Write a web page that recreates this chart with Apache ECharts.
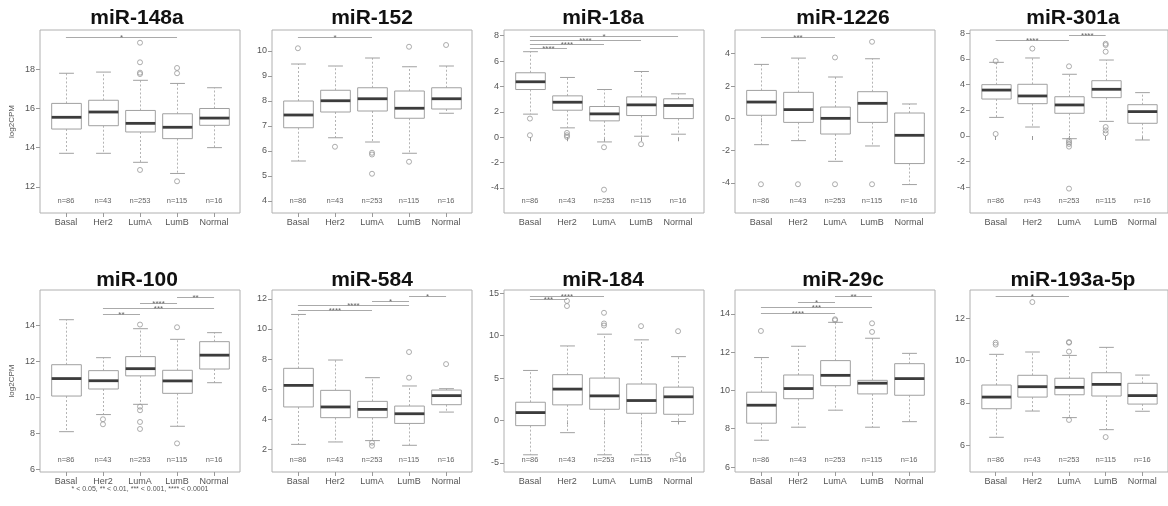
<!DOCTYPE html>
<html>
<head>
<meta charset="utf-8">
<script src="https://cdn.jsdelivr.net/npm/echarts@6/dist/echarts.min.js"></script>
<style>
  html, body { margin: 0; background: #fff; }
  #chart { width: 1168px; height: 506px; }
</style>
</head>
<body>
<div id="chart"></div>
<script>
  const subtypes = ['Basal', 'Her2', 'LumA', 'LumB', 'Normal'];
  const sampleCounts = [86, 43, 253, 115, 16];
  const mirNames = ['miR-148a', 'miR-152', 'miR-18a', 'miR-1226', 'miR-301a',
                    'miR-100', 'miR-584', 'miR-184', 'miR-29c', 'miR-193a-5p'];

  // box stats per subtype: [lower whisker, Q1, median, Q3, upper whisker]
  // outliers per subtype, significance bars: [from, to, y, stars]
  const box148a = [[13.71, 14.95, 15.55, 16.26, 17.8], [13.71, 15.12, 15.82, 16.42, 17.86], [13.25, 14.8, 15.24, 15.9, 17.44], [12.68, 14.46, 15.04, 15.73, 17.28], [14.0, 15.14, 15.51, 16.0, 17.06]];
  const out148a = [[], [], [19.36, 18.36, 17.83, 17.76, 12.86], [18.07, 17.8, 12.28], []];
  const sig148a = [[1, 4, 19.64, '*']];
  const ticks148a = [12, 14, 16, 18];

  const box152 = [[5.6, 6.93, 7.44, 8.0, 9.48], [6.53, 7.56, 8.01, 8.43, 9.4], [6.36, 7.6, 8.09, 8.53, 9.72], [5.91, 7.31, 7.71, 8.4, 9.37], [7.51, 7.68, 8.09, 8.53, 9.4]];
  const out152 = [[10.11], [6.17], [5.93, 5.86, 5.09], [10.17, 5.57], [10.24]];
  const sig152 = [[1, 3, 10.57, '*']];
  const ticks152 = [4, 5, 6, 7, 8, 9, 10];

  const box18a = [[1.82, 3.76, 4.37, 5.08, 6.74], [0.74, 2.13, 2.76, 3.26, 4.71], [-0.37, 1.29, 1.84, 2.42, 3.76], [0.08, 1.71, 2.55, 3.18, 5.18], [0.24, 1.47, 2.5, 3.03, 3.42]];
  const out18a = [[1.47, 0.16], [0.34, 0.16, 0.03], [-0.79, -4.13], [-0.55], []];
  const sig18a = [[1, 5, 8.0, '*'], [1, 4, 7.66, '****'], [1, 3, 7.34, '****'], [1, 2, 7.05, '****']];
  const ticks18a = [-4, -2, 0, 2, 4, 6, 8];

  const box1226 = [[-1.63, 0.19, 1.01, 1.73, 3.34], [-1.38, -0.25, 0.54, 1.61, 3.73], [-2.66, -0.97, 0.0, 0.7, 2.56], [-1.71, -0.25, 0.93, 1.65, 3.69], [-4.1, -2.8, -1.05, 0.33, 0.89]];
  const out1226 = [[-4.08], [-4.08], [3.77, -4.08], [4.74, -4.08], []];
  const sig1226 = [[1, 3, 5.05, '***']];
  const ticks1226 = [-4, -2, 0, 2, 4];

  const box301a = [[1.45, 2.88, 3.58, 4.0, 5.74], [0.7, 2.52, 3.12, 4.03, 6.08], [-0.21, 1.77, 2.42, 3.06, 4.81], [1.14, 2.99, 3.64, 4.31, 5.92], [-0.31, 0.99, 1.9, 2.44, 3.38]];
  const out301a = [[5.84, 0.16], [6.81], [5.43, -0.36, -0.49, -0.62, -0.83, -4.1], [7.19, 7.09, 6.57, 0.7, 0.44, 0.21], []];
  const sig301a = [[1, 3, 7.51, '****'], [3, 4, 7.87, '****']];
  const ticks301a = [-4, -2, 0, 2, 4, 6, 8];

  const box100 = [[8.11, 10.09, 11.06, 11.83, 14.33], [9.06, 10.48, 10.94, 11.5, 12.22], [9.63, 11.21, 11.61, 12.28, 13.83], [8.41, 10.24, 10.93, 11.52, 13.24], [10.83, 11.59, 12.36, 13.11, 13.61]];
  const out100 = [[], [8.8, 8.52], [14.06, 9.5, 9.3, 8.65, 8.26], [13.91, 7.46], []];
  const sig100 = [[4, 5, 15.58, '**'], [3, 4, 15.24, '****'], [2, 5, 14.97, '***'], [2, 3, 14.65, '**']];
  const ticks100 = [6, 8, 10, 12, 14];

  const box584 = [[2.35, 4.83, 6.26, 7.39, 10.96], [2.51, 4.12, 4.83, 5.93, 7.94], [2.6, 4.12, 4.67, 5.2, 6.77], [2.29, 3.74, 4.38, 4.89, 6.22], [4.49, 4.98, 5.58, 5.95, 6.04]];
  const out584 = [[], [], [2.46, 2.26], [8.47, 6.77], [7.67]];
  const sig584 = [[4, 5, 12.18, '*'], [3, 4, 11.87, '*'], [1, 4, 11.58, '****'], [1, 3, 11.25, '****']];
  const ticks584 = [2, 4, 6, 8, 10, 12];

  const box184 = [[-4.05, -0.61, 0.93, 2.15, 5.9], [-1.44, 1.84, 3.7, 5.4, 8.79], [-4.05, 1.32, 2.9, 5.0, 10.18], [-4.05, 0.85, 2.35, 4.3, 9.51], [-0.12, 0.73, 2.79, 3.93, 7.53]];
  const out184 = [[], [14.1, 13.5], [12.7, 11.44, 11.2], [11.13], [10.53, -4.05]];
  const sig184 = [[1, 3, 14.68, '****'], [1, 2, 14.33, '***']];
  const ticks184 = [-5, 0, 5, 10, 15];

  const box29c = [[7.4, 8.29, 9.23, 9.91, 11.72], [8.08, 9.57, 10.1, 10.81, 12.31], [8.97, 10.25, 10.79, 11.56, 13.56], [8.08, 9.82, 10.38, 10.53, 12.73], [8.37, 9.75, 10.62, 11.4, 11.94]];
  const out29c = [[13.11], [], [13.72, 13.67], [13.51, 13.06], []];
  const sig29c = [[3, 4, 14.94, '**'], [2, 3, 14.64, '*'], [1, 4, 14.35, '***'], [1, 3, 14.05, '****']];
  const ticks29c = [6, 8, 10, 12, 14];

  const box193a = [[6.38, 7.73, 8.28, 8.85, 10.3], [7.62, 8.28, 8.77, 9.31, 10.41], [7.31, 8.39, 8.74, 9.17, 10.25], [6.74, 8.33, 8.88, 9.43, 10.63], [7.61, 7.95, 8.35, 8.93, 9.32]];
  const out193a = [[10.85, 10.76], [12.77], [10.88, 10.85, 10.43, 7.2], [6.39], []];
  const sig193a = [[1, 3, 13.04, '*']];
  const ticks193a = [6, 8, 10, 12];

  const panelBoxes = [box148a, box152, box18a, box1226, box301a, box100, box584, box184, box29c, box193a];
  const panelOut = [out148a, out152, out18a, out1226, out301a, out100, out584, out184, out29c, out193a];
  const panelSig = [sig148a, sig152, sig18a, sig1226, sig301a, sig100, sig584, sig184, sig29c, sig193a];
  const panelTicks = [ticks148a, ticks152, ticks18a, ticks1226, ticks301a, ticks100, ticks584, ticks184, ticks29c, ticks193a];

  // layout
  const colX = [40, 272, 504, 735, 970];
  const rowY = [30, 290];
  const plotH = [183, 182];
  const titleX = [137, 372, 603, 843, 1073];
  const titleY = [18, 280];
  const yRange = [[10.66, 20.01], [3.52, 10.84], [-5.97, 8.45], [-5.86, 5.47], [-6.0, 8.26],
                  [5.87, 15.98], [0.52, 12.58], [-6.08, 15.39], [5.74, 15.25], [4.74, 13.34]];
  const FONT = '"Liberation Sans", Arial, sans-serif';

  function renderBox(params, api) {
    const x = api.value(0);
    const lo = api.coord([x, api.value(1)]);
    const q1 = api.coord([x, api.value(2)])[1];
    const med = api.coord([x, api.value(3)])[1];
    const q3 = api.coord([x, api.value(4)])[1];
    const hi = api.coord([x, api.value(5)])[1];
    const cx = Math.round(lo[0]) + 0.5;
    const w = api.size([0.8, 0])[0];
    const cap = w / 4;
    const dash = { stroke: '#b4b4b4', lineWidth: 1, lineDash: [2, 2] };
    const solid = { stroke: '#a0a0a0', lineWidth: 1 };
    return {
      type: 'group',
      children: [
        { type: 'line', shape: { x1: cx, y1: q3, x2: cx, y2: hi }, style: dash },
        { type: 'line', shape: { x1: cx, y1: q1, x2: cx, y2: lo[1] }, style: dash },
        { type: 'line', shape: { x1: cx - cap, y1: hi, x2: cx + cap, y2: hi }, style: solid },
        { type: 'line', shape: { x1: cx - cap, y1: lo[1], x2: cx + cap, y2: lo[1] }, style: solid },
        { type: 'rect', shape: { x: cx - w / 2, y: q3, width: w, height: q1 - q3 },
          style: { fill: '#fff', stroke: '#a0a0a0', lineWidth: 1 } },
        { type: 'line', shape: { x1: cx - w / 2, y1: med, x2: cx + w / 2, y2: med },
          style: { stroke: '#3c3c3c', lineWidth: 2.8 } }
      ]
    };
  }

  function makeSigRender(sig) {
    return function (params, api) {
      const p1 = api.coord([api.value(0), api.value(2)]);
      const p2 = api.coord([api.value(1), api.value(2)]);
      const y = Math.round(p1[1]) + 0.5;
      return {
        type: 'group',
        children: [
          { type: 'line', shape: { x1: p1[0], y1: y, x2: p2[0], y2: y },
            style: { stroke: '#aaa', lineWidth: 1 } },
          { type: 'text', x: (p1[0] + p2[0]) / 2, y: y,
            style: { text: sig[params.dataIndex][3], align: 'center', verticalAlign: 'middle',
                     font: '8px ' + FONT, fill: '#666' } }
        ]
      };
    };
  }

  function renderCount(params, api) {
    const x = api.coord([api.value(0), 0])[0];
    const cs = params.coordSys;
    return {
      type: 'text', x: x, y: cs.y + cs.height - 12,
      style: { text: 'n=' + sampleCounts[params.dataIndex], align: 'center', verticalAlign: 'middle',
               font: '7.5px ' + FONT, fill: '#666' }
    };
  }

  const grid = [], xAxis = [], yAxis = [], series = [], graphic = [];
  const catPos = subtypes.map((s, i) => i + 1);

  mirNames.forEach((name, i) => {
    const col = i % 5, row = Math.floor(i / 5);
    grid.push({ left: colX[col], top: rowY[row], width: 200, height: plotH[row],
                show: true, borderColor: '#b0b0b0', borderWidth: 1, backgroundColor: 'transparent' });
    xAxis.push({
      gridIndex: i, type: 'value', min: 0.3, max: 5.7,
      axisLine: { show: false }, splitLine: { show: false },
      axisTick: { show: true, length: 4, customValues: catPos, lineStyle: { color: '#999' } },
      axisLabel: { customValues: catPos, formatter: v => subtypes[Math.round(v) - 1],
                   margin: 5, fontSize: 9, color: '#555', fontFamily: FONT }
    });
    yAxis.push({
      gridIndex: i, type: 'value', min: yRange[i][0], max: yRange[i][1],
      axisLine: { show: false }, splitLine: { show: false },
      axisTick: { show: true, length: 4, customValues: panelTicks[i], lineStyle: { color: '#999' } },
      axisLabel: { customValues: panelTicks[i], margin: 5, fontSize: 9, color: '#555', fontFamily: FONT },
      name: col === 0 ? 'log2CPM' : '', nameLocation: 'middle', nameGap: 24,
      nameTextStyle: { fontSize: 8, color: '#555', fontFamily: FONT }
    });

    series.push({
      type: 'custom', xAxisIndex: i, yAxisIndex: i, renderItem: renderBox,
      encode: { x: 0, y: [1, 2, 3, 4, 5] },
      data: panelBoxes[i].map((b, k) => [k + 1].concat(b))
    });
    const outs = [];
    panelOut[i].forEach((vals, k) => vals.forEach(v => outs.push([k + 1, v])));
    series.push({
      type: 'scatter', xAxisIndex: i, yAxisIndex: i, symbol: 'circle', symbolSize: 5,
      itemStyle: { color: 'rgba(0,0,0,0)', borderColor: '#999', borderWidth: 1 },
      data: outs, z: 3
    });
    series.push({
      type: 'custom', xAxisIndex: i, yAxisIndex: i, renderItem: makeSigRender(panelSig[i]),
      encode: { x: [0, 1], y: 2 },
      data: panelSig[i].map(s => [s[0], s[1], s[2]])
    });
    series.push({
      type: 'custom', xAxisIndex: i, yAxisIndex: i, renderItem: renderCount,
      encode: { x: 0 },
      data: catPos.map(p => [p])
    });

    graphic.push({
      type: 'text', x: titleX[col], y: titleY[row],
      style: { text: name, align: 'center', verticalAlign: 'middle',
               font: 'bold 21px ' + FONT, fill: '#111' }
    });
  });

  graphic.push({
    type: 'text', x: 140, y: 489,
    style: { text: '* < 0.05, ** < 0.01, *** < 0.001, **** < 0.0001', align: 'center',
             verticalAlign: 'middle', font: '7px ' + FONT, fill: '#555' }
  });

  const myChart = echarts.init(document.getElementById('chart'));
  myChart.setOption({
    animation: false,
    backgroundColor: '#fff',
    grid: grid,
    xAxis: xAxis,
    yAxis: yAxis,
    series: series,
    graphic: graphic
  });
</script>
</body>
</html>
